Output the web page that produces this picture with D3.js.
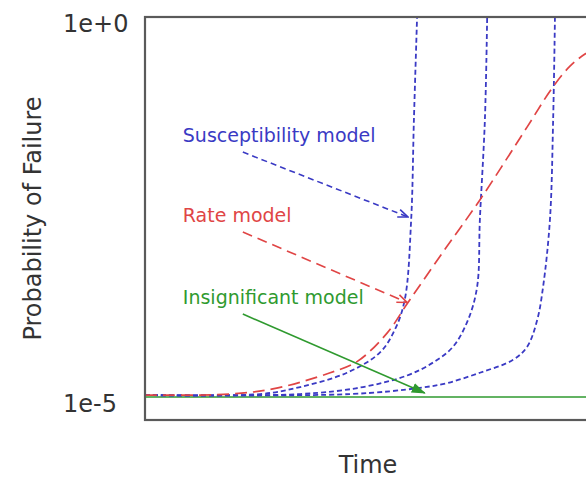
<!DOCTYPE html>
<html lang="en">
<head>
  <meta charset="UTF-8">
  <title>Probability of Failure</title>
  <script src="https://d3js.org/d3.v7.min.js"></script>
  <style>
    body { margin: 0; background: #fff; }
    text { font-family: "DejaVu Sans", Verdana, sans-serif; }
    .frame { fill: none; stroke: #5a5a5a; stroke-width: 2.2px; }
    .curve { fill: none; }
  </style>
</head>
<body>
  <svg width="586" height="478"></svg>
  <script>
    // time (arbitrary units) vs probability of failure
    const insignificant = [[0, 1.2e-5], [10, 1.2e-5]];

    const rateModel = [
      [0, 1.27e-5], [1.87, 1.31e-5], [2.92, 1.58e-5], [4.07, 2.5e-5], [4.66, 3.5e-5],
      [5.32, 8.3e-5], [5.78, 2.1e-4], [6.55, 9.7e-4], [7.36, 4.7e-3], [8.40, 0.043],
      [8.95, 0.14], [9.34, 0.27], [9.67, 0.39], [10, 0.5]
    ];

    const suscA = [
      [0, 1.27e-5], [2.53, 1.31e-5], [3.41, 1.62e-5], [4.44, 2.5e-5], [5.16, 4.6e-5],
      [5.49, 9.2e-5], [5.71, 2.3e-4], [5.85, 2.6e-3], [5.91, 0.053], [5.98, 1.2]
    ];
    const suscB = [
      [0, 1.27e-5], [3.41, 1.31e-5], [4.79, 1.62e-5], [5.76, 2.3e-5], [6.33, 3.4e-5],
      [6.77, 5.5e-5], [7.10, 1.24e-4], [7.30, 3.4e-4], [7.36, 2.6e-3], [7.47, 0.053], [7.52, 1.2]
    ];
    const suscC = [
      [0, 1.27e-5], [4.51, 1.31e-5], [6.04, 1.58e-5], [6.64, 1.83e-5], [7.36, 2.5e-5],
      [8.09, 3.7e-5], [8.40, 5.5e-5], [8.62, 1.24e-4], [8.75, 3.4e-4], [8.90, 2.6e-3],
      [8.97, 0.053], [9.01, 1.2]
    ];

    const yTicks = [1, 1e-5];
    const yTickLabels = ["1e+0", "1e-5"];

    // annotation: label, arrow tail, arrow head (data coords)
    const annLabels = ["Susceptibility model", "Rate model", "Insignificant model"];
    const annFrom = [[2.15, 0.020], [2.15, 1.78e-3], [2.15, 1.48e-4]];
    const annTo = [[5.78, 2.8e-3], [5.76, 2.1e-4], [6.15, 1.35e-5]];

    const blue = "#3a3ac4", red = "#e04545", green = "#2f9a2f";

    const svg = d3.select("svg");
    const m = { left: 145, right: 600, top: 17, bottom: 420 };

    const x = d3.scaleLinear().domain([0, 10]).range([m.left, m.right]);
    const y = d3.scaleLog().domain([Math.pow(10, -5.224), Math.pow(10, 0.079)]).range([m.bottom, m.top]);

    const defs = svg.append("defs");
    defs.append("clipPath").attr("id", "plot")
      .append("rect").attr("x", m.left).attr("y", m.top)
      .attr("width", m.right - m.left).attr("height", m.bottom - m.top);

    function openHead(id, color) {
      defs.append("marker").attr("id", id)
        .attr("viewBox", "0 -6 12 12").attr("refX", 11).attr("refY", 0)
        .attr("markerWidth", 12).attr("markerHeight", 12)
        .attr("markerUnits", "userSpaceOnUse").attr("orient", "auto")
        .append("path").attr("d", "M1,-4L11,0L1,4")
        .attr("fill", "none").attr("stroke", color).attr("stroke-width", 1.6);
    }
    openHead("headBlue", blue);
    openHead("headRed", red);
    defs.append("marker").attr("id", "headGreen")
      .attr("viewBox", "0 -6 14 12").attr("refX", 13).attr("refY", 0)
      .attr("markerWidth", 14).attr("markerHeight", 12)
      .attr("markerUnits", "userSpaceOnUse").attr("orient", "auto")
      .append("path").attr("d", "M0,-5L14,0L0,5Z").attr("fill", green);

    const line = d3.line()
      .x(d => x(d[0]))
      .y(d => y(d[1]))
      .curve(d3.curveCatmullRom.alpha(0.5));

    const g = svg.append("g").attr("clip-path", "url(#plot)");

    g.append("path").datum(insignificant).attr("class", "curve")
      .attr("d", line).attr("stroke", green).attr("stroke-width", 1.6);

    [suscA, suscB, suscC].forEach(s => {
      g.append("path").datum(s).attr("class", "curve")
        .attr("d", line).attr("stroke", blue).attr("stroke-width", 1.8)
        .attr("stroke-dasharray", "5,3");
    });

    g.append("path").datum(rateModel).attr("class", "curve")
      .attr("d", line).attr("stroke", red).attr("stroke-width", 1.7)
      .attr("stroke-dasharray", "12,6");

    // frame (right edge is outside the window)
    svg.append("rect").attr("class", "frame")
      .attr("x", m.left).attr("y", m.top)
      .attr("width", m.right - m.left).attr("height", m.bottom - m.top);

    // y axis labels
    const yAxis = d3.axisLeft(y).tickValues(yTicks)
      .tickFormat((d, i) => yTickLabels[i]).tickSize(0);
    const ax = svg.append("g").attr("transform", `translate(${m.left},0)`).call(yAxis);
    ax.select(".domain").remove();
    ax.selectAll("text")
      .attr("x", 63 - m.left).attr("text-anchor", "start")
      .attr("dy", "0.35em")
      .style("font-family", "'DejaVu Sans', Verdana, sans-serif")
      .style("font-size", "24px").attr("fill", "#333");

    svg.append("text").attr("x", 368).attr("y", 473)
      .attr("text-anchor", "middle").attr("font-size", 24).attr("fill", "#333")
      .text("Time");

    svg.append("text")
      .attr("transform", `translate(41,${(m.top + m.bottom) / 2}) rotate(-90)`)
      .attr("text-anchor", "middle").attr("font-size", 24).attr("fill", "#333")
      .text("Probability of Failure");

    // annotations
    const annColors = [blue, red, green];
    const annHeads = ["headBlue", "headRed", "headGreen"];
    const annDash = ["6,4", "10,6", null];
    annLabels.forEach((label, i) => {
      const [fx, fy] = [x(annFrom[i][0]), y(annFrom[i][1])];
      const [tx, ty] = [x(annTo[i][0]), y(annTo[i][1])];
      svg.append("line")
        .attr("x1", fx).attr("y1", fy).attr("x2", tx).attr("y2", ty)
        .attr("stroke", annColors[i]).attr("stroke-width", 1.6)
        .attr("stroke-dasharray", annDash[i])
        .attr("marker-end", `url(#${annHeads[i]})`);
      svg.append("text")
        .attr("x", fx - 60).attr("y", fy - 10)
        .attr("font-size", 19).attr("fill", annColors[i])
        .text(label);
    });
  </script>
</body>
</html>
